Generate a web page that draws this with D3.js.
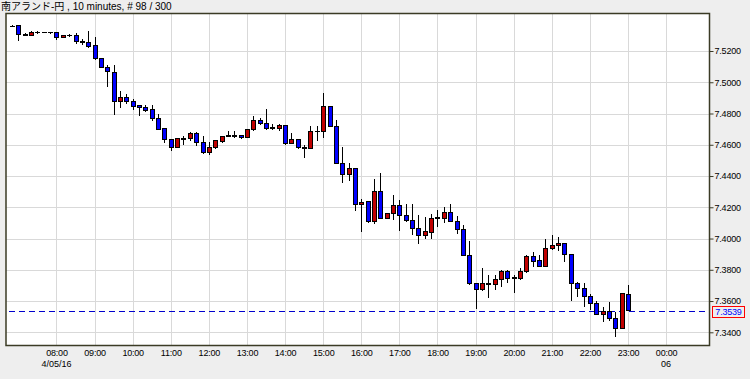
<!DOCTYPE html>
<html>
<head>
<meta charset="utf-8">
<script src="https://cdnjs.cloudflare.com/ajax/libs/d3/7.8.5/d3.min.js"></script>
<style>
  body { margin: 0; background: #fff; }
  text { font-family: "Liberation Sans", Arial, "Noto Sans CJK JP", sans-serif; }
</style>
</head>
<body>
<svg id="chart" width="753" height="379"></svg>
<script>
// 10 minute candles, 4/05/16 06:50 -> 23:00
const startTime = new Date(2016, 3, 5, 6, 50)
const stepMinutes = 10

const open = [
  7.5359, 7.5364, 7.5304, 7.5298, 7.5319, 7.5319, 7.5319, 7.5317, 7.5285, 7.5300,
  7.5300, 7.5261, 7.5253, 7.5236, 7.5151, 7.5093, 7.5065, 7.4874, 7.4902, 7.4878,
  7.4852, 7.4840, 7.4825, 7.4767, 7.4703, 7.4633, 7.4582, 7.4640, 7.4640, 7.4672,
  7.4614, 7.4550, 7.4580, 7.4624, 7.4655, 7.4659, 7.4661, 7.4646, 7.4697, 7.4757,
  7.4736, 7.4709, 7.4707, 7.4725, 7.4608, 7.4633, 7.4582, 7.4578, 7.4688, 7.4686,
  7.4846, 7.4720, 7.4480, 7.4410, 7.4448, 7.4218, 7.4235, 7.4107, 7.4303, 7.4128,
  7.4160, 7.4213, 7.4150, 7.4118, 7.4065, 7.4022, 7.4039, 7.4128, 7.4128, 7.4167,
  7.4107, 7.4058, 7.3889, 7.3713, 7.3675, 7.3711, 7.3707, 7.3739, 7.3787, 7.3748,
  7.3747, 7.3787, 7.3883, 7.3858, 7.3824, 7.3934, 7.3955, 7.3969, 7.3898, 7.3715,
  7.3681, 7.3632, 7.3585, 7.3515, 7.3536, 7.3489, 7.3426, 7.3645
]
const high = [
  7.5367, 7.5364, 7.5316, 7.5325, 7.5325, 7.5320, 7.5323, 7.5320, 7.5300, 7.5311,
  7.5317, 7.5274, 7.5327, 7.5289, 7.5153, 7.5108, 7.5113, 7.4942, 7.4927, 7.4891,
  7.4855, 7.4857, 7.4852, 7.4795, 7.4705, 7.4640, 7.4639, 7.4656, 7.4682, 7.4682,
  7.4654, 7.4618, 7.4633, 7.4654, 7.4686, 7.4688, 7.4663, 7.4699, 7.4782, 7.4771,
  7.4827, 7.4732, 7.4736, 7.4727, 7.4678, 7.4635, 7.4597, 7.4720, 7.4720, 7.4931,
  7.4848, 7.4757, 7.4586, 7.4486, 7.4450, 7.4256, 7.4239, 7.4384, 7.4422, 7.4163,
  7.4277, 7.4245, 7.4224, 7.4224, 7.4150, 7.4139, 7.4160, 7.4182, 7.4203, 7.4224,
  7.4143, 7.4086, 7.3985, 7.3716, 7.3809, 7.3766, 7.3766, 7.3798, 7.3798, 7.3766,
  7.3813, 7.3894, 7.3915, 7.3894, 7.3994, 7.4022, 7.4007, 7.3973, 7.3900, 7.3721,
  7.3713, 7.3643, 7.3600, 7.3560, 7.3596, 7.3532, 7.3651, 7.3702
]
const low = [
  7.5351, 7.5266, 7.5301, 7.5296, 7.5310, 7.5318, 7.5309, 7.5272, 7.5283, 7.5289,
  7.5247, 7.5240, 7.5221, 7.5140, 7.5090, 7.4969, 7.4789, 7.4835, 7.4863, 7.4821,
  7.4784, 7.4810, 7.4750, 7.4693, 7.4614, 7.4560, 7.4580, 7.4601, 7.4624, 7.4592,
  7.4539, 7.4537, 7.4571, 7.4614, 7.4650, 7.4646, 7.4640, 7.4644, 7.4688, 7.4729,
  7.4697, 7.4697, 7.4688, 7.4601, 7.4603, 7.4576, 7.4518, 7.4571, 7.4624, 7.4646,
  7.4716, 7.4478, 7.4356, 7.4369, 7.4175, 7.4039, 7.4097, 7.4090, 7.4124, 7.4124,
  7.4118, 7.4049, 7.4107, 7.4022, 7.3962, 7.3996, 7.3994, 7.4075, 7.4097, 7.4105,
  7.4026, 7.3887, 7.3702, 7.3549, 7.3666, 7.3617, 7.3670, 7.3691, 7.3713, 7.3653,
  7.3734, 7.3781, 7.3819, 7.3815, 7.3815, 7.3928, 7.3921, 7.3851, 7.3602, 7.3627,
  7.3562, 7.3543, 7.3509, 7.3468, 7.3474, 7.3372, 7.3424, 7.3537
]
const close = [
  7.5355, 7.5304, 7.5302, 7.5317, 7.5318, 7.5319, 7.5318, 7.5285, 7.5298, 7.5298,
  7.5261, 7.5257, 7.5231, 7.5151, 7.5093, 7.5070, 7.4874, 7.4902, 7.4874, 7.4848,
  7.4838, 7.4821, 7.4767, 7.4699, 7.4633, 7.4580, 7.4637, 7.4638, 7.4672, 7.4614,
  7.4550, 7.4582, 7.4629, 7.4650, 7.4658, 7.4657, 7.4646, 7.4697, 7.4757, 7.4736,
  7.4707, 7.4709, 7.4725, 7.4608, 7.4633, 7.4582, 7.4578, 7.4688, 7.4684, 7.4846,
  7.4720, 7.4480, 7.4410, 7.4448, 7.4218, 7.4231, 7.4107, 7.4303, 7.4128, 7.4160,
  7.4213, 7.4150, 7.4113, 7.4065, 7.4022, 7.4043, 7.4128, 7.4132, 7.4167, 7.4107,
  7.4058, 7.3889, 7.3713, 7.3675, 7.3713, 7.3709, 7.3739, 7.3787, 7.3745, 7.3745,
  7.3792, 7.3883, 7.3851, 7.3824, 7.3937, 7.3958, 7.3969, 7.3898, 7.3715, 7.3681,
  7.3627, 7.3585, 7.3515, 7.3532, 7.3489, 7.3426, 7.3649, 7.3539
]

const yTicks = [7.34, 7.36, 7.38, 7.40, 7.42, 7.44, 7.46, 7.48, 7.50, 7.52]
const lastPrice = 7.3539
const title = '南アランド-円 , 10 minutes, # 98 / 300'
const dateLabels = [
  { time: new Date(2016, 3, 5, 8, 0), text: '4/05/16' },
  { time: new Date(2016, 3, 6, 0, 0), text: '06' },
]

const width = 753
const height = 379
const plot = { left: 6, right: 709.5, top: 13.5, bottom: 345.5 }
const frameColor = '#3b3b25'
const gridColor = '#d9d9d9'
const upColor = '#c00000'
const downColor = '#0000ff'

const candles = open.map((o, i) => ({
  time: d3.timeMinute.offset(startTime, i * stepMinutes),
  open: o,
  high: high[i],
  low: low[i],
  close: close[i],
}))

const x = d3.scaleTime()
  .domain([startTime, candles[candles.length - 1].time])
  .range([12, 628])

const y = d3.scaleLinear()
  .domain([7.34, 7.52])
  .range([332.3, 51])

const hourTicks = d3.timeHour.range(new Date(2016, 3, 5, 8), new Date(2016, 3, 6, 0, 1))

const svg = d3.select('#chart')

// page + plot background
svg.append('rect').attr('width', 750).attr('height', height).attr('fill', '#eeeeee')
svg.append('rect')
  .attr('x', plot.left)
  .attr('y', plot.top)
  .attr('width', plot.right - plot.left)
  .attr('height', plot.bottom - plot.top)
  .attr('fill', '#fff')

// grid
const grid = svg.append('g').attr('shape-rendering', 'crispEdges')
grid.selectAll('line.h')
  .data(yTicks)
  .enter()
  .append('line')
  .attr('class', 'h')
  .attr('x1', plot.left)
  .attr('x2', plot.right)
  .attr('y1', (d) => Math.round(y(d)) + 0.5)
  .attr('y2', (d) => Math.round(y(d)) + 0.5)
  .attr('stroke', gridColor)
grid.selectAll('line.v')
  .data(hourTicks)
  .enter()
  .append('line')
  .attr('class', 'v')
  .attr('x1', (d) => Math.round(x(d)) + 0.5)
  .attr('x2', (d) => Math.round(x(d)) + 0.5)
  .attr('y1', plot.top)
  .attr('y2', plot.bottom)
  .attr('stroke', gridColor)

// last price dashed line
svg.append('line')
  .attr('x1', plot.left + 3)
  .attr('x2', plot.right)
  .attr('y1', Math.round(y(lastPrice)) + 0.5)
  .attr('y2', Math.round(y(lastPrice)) + 0.5)
  .attr('stroke', '#0000cc')
  .attr('stroke-dasharray', '6,4')
  .attr('shape-rendering', 'crispEdges')

// candles
const candle = svg.append('g')
  .attr('shape-rendering', 'crispEdges')
  .selectAll('g')
  .data(candles)
  .enter()
  .append('g')
  .attr('transform', (d) => `translate(${Math.round(x(d.time))},0)`)

candle.append('line')
  .attr('x1', 0.5)
  .attr('x2', 0.5)
  .attr('y1', (d) => y(d.high))
  .attr('y2', (d) => y(d.low))
  .attr('stroke', '#000')

candle.append('rect')
  .attr('x', -1.5)
  .attr('width', 4)
  .attr('y', (d) => y(Math.max(d.open, d.close)))
  .attr('height', (d) => Math.max(0.5, Math.abs(y(d.open) - y(d.close))))
  .attr('fill', (d) => (d.close > d.open ? upColor : downColor))
  .attr('stroke', '#000')

// frame
svg.append('rect')
  .attr('x', plot.left)
  .attr('y', plot.top)
  .attr('width', plot.right - plot.left)
  .attr('height', plot.bottom - plot.top)
  .attr('fill', 'none')
  .attr('stroke', frameColor)
  .attr('stroke-width', 1.5)

// y axis on the right
const yAxis = svg.append('g')
  .attr('transform', `translate(${plot.right},0)`)
  .call(
    d3.axisRight(y)
      .tickValues(yTicks)
      .tickFormat(d3.format('.4f'))
      .tickSize(4)
      .tickPadding(1)
  )
yAxis.select('.domain').remove()
yAxis.selectAll('line').attr('stroke', frameColor)
yAxis.selectAll('text')
  .attr('fill', '#000')
  .style('font-size', '9px')
  .style('letter-spacing', '-0.2px')

// x axis
const xAxis = svg.append('g')
  .attr('transform', `translate(0,${plot.bottom})`)
  .call(
    d3.axisBottom(x)
      .tickValues(hourTicks)
      .tickFormat(d3.timeFormat('%H:%M'))
      .tickSize(0)
      .tickPadding(4.5)
  )
xAxis.select('.domain').remove()
xAxis.selectAll('text')
  .attr('fill', '#000')
  .style('font-size', '9px')
  .style('letter-spacing', '-0.2px')

svg.selectAll('text.date')
  .data(dateLabels)
  .enter()
  .append('text')
  .attr('class', 'date')
  .attr('x', (d) => x(d.time))
  .attr('y', 367)
  .attr('text-anchor', 'middle')
  .style('font-size', '9px')
  .text((d) => d.text)

// last price tag
const tagY = Math.round(y(lastPrice))
svg.append('rect')
  .attr('x', 712.5)
  .attr('y', tagY - 5)
  .attr('width', 32)
  .attr('height', 11)
  .attr('fill', '#eeeeee')
  .attr('stroke', '#ff0000')
  .attr('shape-rendering', 'crispEdges')
svg.append('text')
  .attr('x', 728.5)
  .attr('y', tagY + 4)
  .attr('text-anchor', 'middle')
  .attr('fill', '#0000ff')
  .style('font-size', '9px')
  .style('letter-spacing', '-0.2px')
  .text(d3.format('.4f')(lastPrice))

// title
svg.append('text')
  .attr('x', 1)
  .attr('y', 10)
  .style('font-size', '10px')
  .text(title)
</script>
</body>
</html>
